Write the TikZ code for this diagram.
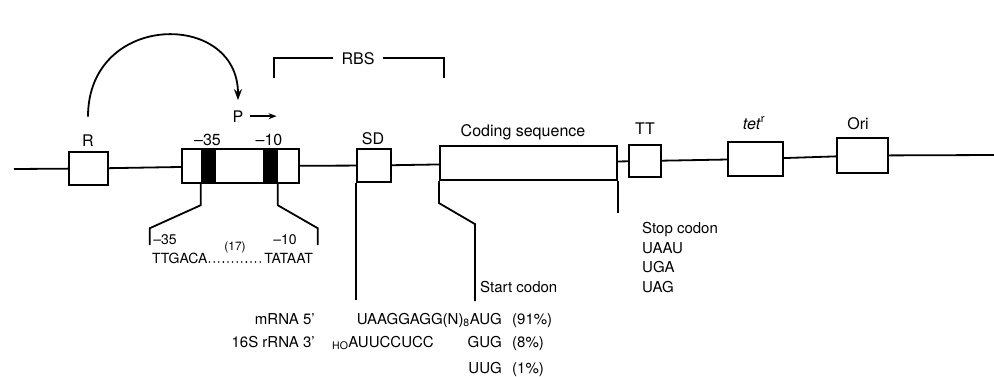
\documentclass[tikz,border=0pt]{standalone}
\usepackage{fontspec}
\setmainfont{TeX Gyre Heros}
\usetikzlibrary{positioning,arrows.meta}

\begin{document}
\begin{tikzpicture}[x=1pt,y=-1pt,
  gbox/.style={draw,line width=2.1pt,inner sep=0pt},
  ln/.style={line width=1.8pt},
  lbl/.style={font=\fontsize{16}{19}\selectfont,inner sep=0pt,anchor=base},
  sm/.style={font=\fontsize{15}{19.7}\selectfont,inner sep=0pt},
  seq/.style={font=\fontsize{14}{16}\selectfont,inner sep=0pt,anchor=base}]
\useasboundingbox (0,0) rectangle (994,376);
% the line with its elements
\coordinate (lstart) at (14,169);
\coordinate (lend) at (994,155);
\node[gbox,minimum width=117,minimum height=34] (prom) at (240.5,166) {};
\foreach \n/\x/\y/\w/\h/\t/\lx/\ly in {R/88.5/168.5/39/33/R/88/146, sd/374/165.5/34/33/SD/373/144,
    cds/528.5/163/177/34/Coding sequence/523/136, tt/645/161/32/32/TT/645/134,
    tet/755.5/159/55/34/{\textit{tet}\textsuperscript{r}}/754/129, ori/862.5/155.5/51/35/Ori/858/129}
  {\node[gbox,minimum width=\w,minimum height=\h] (\n) at (\x,\y) {};
   \node[lbl] (\n-l) at (\lx,\ly) {\t};}
\draw[ln] (lstart) -- (R) -- (prom) -- (sd) -- (cds) -- (tt) -- (tet) -- (ori) -- (lend);
\foreach \n/\x/\t in {m35/208.5/--35, m10/270/--10}
  {\node[fill,minimum width=15,minimum height=34,inner sep=0pt] (\n) at (\x,166) {};
   \node[lbl] at (\x-1,145) {\t};}
% repressor acts on P
\node[lbl] (P) at (238,122) {P};
\draw[ln,-{Stealth[length=11pt,width=8pt]}] ([yshift=17.5pt]R-l.north) .. controls +(0,-105) and +(0,-90) .. ([yshift=10pt]P.north);
\draw[ln,-{Stealth[length=8pt,width=6pt]}] ([xshift=6pt]P.east) -- ++(27,0);
% RBS
\node[lbl] (rbs) at (358,64) {RBS};
\draw[ln] ([xshift=-8pt]rbs.west) -| ++(-59,20);
\draw[ln] ([xshift=8pt]rbs.east) -| ++(61,20);
% promoter boxes
\draw[ln] (m35.south west) -- ++(0,22) -- ++(-51,23) -- ++(0,17);
\draw[ln] (m10.south east) -- ++(0,22) -- ++(40,23) -- ++(0,17);
\node[seq] at (165,244) {--35};
\node[seq] at (285,244) {--10};
\node[seq,anchor=base west] (ttgaca) at (152,263) {TTGACA};
\node[seq,anchor=base east] (tataat) at (313,263) {TATAAT};
\draw[line width=1.8pt,line cap=round,dash pattern=on 0pt off 4.6pt] ([xshift=2pt,yshift=1pt]ttgaca.base east) -- ([yshift=1pt]tataat.base west);
\node[font=\fontsize{12}{14}\selectfont,inner sep=0pt,anchor=base] at (235,250) {(17)};
% SD, start and stop
\draw[ln] (sd.south west) -- ++(0,117);
\draw[ln] (cds.south west) -- ++(0,22) -- ++(36,21) -- ++(0,77);
\draw[ln] (cds.south east) -- ++(0,32);
\node[sm,anchor=west] at (480,287) {Start codon};
\node[sm,anchor=north west,align=left] at (642,222) {Stop codon\\UAAU\\UGA\\UAG};
\node[sm,anchor=base east] at (315,324) {mRNA 5'};
\node[sm,anchor=base east] at (315,347) {16S rRNA 3'};
\node[sm,anchor=base west] at (332,347) {\textsubscript{HO}AUUCCUCC};
\foreach \y/\c/\p in {324/{UAAGGAGG(N)\textsubscript{8}AUG}/91, 347/GUG/8, 373/UUG/1}
  {\node[sm,anchor=base east] at (502,\y) {\c};
   \node[sm,anchor=base west] at (512,\y) {(\p\%)};}
\end{tikzpicture}
\end{document}
